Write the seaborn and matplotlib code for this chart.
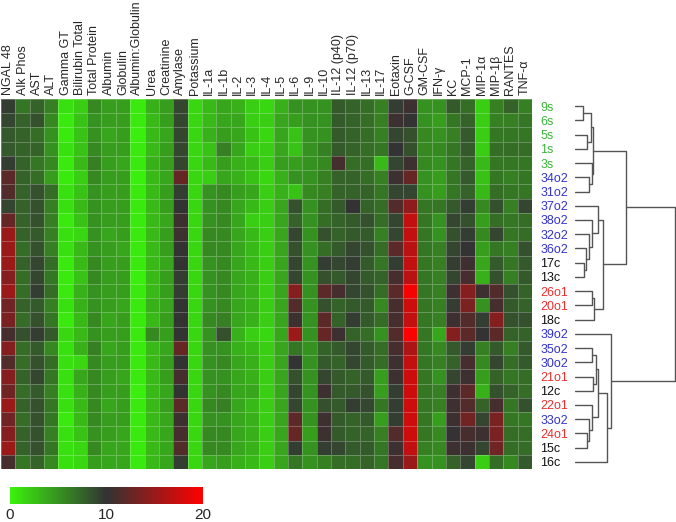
import numpy as np
import pandas as pd
import matplotlib
matplotlib.use("Agg")
import matplotlib.pyplot as plt
from matplotlib.colors import LinearSegmentedColormap
import seaborn as sns

# rows (top -> bottom, dendrogram order)
samples = ["9s", "6s", "5s", "1s", "3s", "34o2", "31o2", "37o2", "38o2", "32o2", "36o2",
           "17c", "13c", "26o1", "20o1", "18c", "39o2", "35o2", "30o2", "21o1", "12c",
           "22o1", "33o2", "24o1", "15c", "16c"]

clinical_names = ["NGAL 48", "Alk Phos", "AST", "ALT", "Gamma GT", "Bilirubin Total",
                  "Total Protein", "Albumin", "Globulin", "Albumin:Globulin", "Urea",
                  "Creatinine", "Amylase", "Potassium"]
cytokine_names = ["IL-1a", "IL-1b", "IL-2", "IL-3", "IL-4", "IL-5", "IL-6", "IL-9", "IL-10",
                  "IL-12 (p40)", "IL-12 (p70)", "IL-13", "IL-17", "Eotaxin", "G-CSF", "GM-CSF",
                  "IFN-γ", "KC", "MCP-1", "MIP-1α", "MIP-1β", "RANTES", "TNF-α"]

# one list per marker, 26 samples each (colour scale 0-20)
clinical = [
    [9.5, 9, 8, 8, 9.5, 12, 11.5, 9, 12.5, 15, 15, 15, 14, 15, 13, 13.5, 11, 14, 11.5, 14, 13, 15, 13, 14, 15, 11],
    [6.5, 7.5, 7.5, 7.5, 7.5, 7.5, 7.5, 7.5, 7.5, 7.5, 7, 7.5, 7, 7, 7.5, 7, 8.5, 7, 7, 7.5, 7, 7.5, 7, 7.5, 7.5, 6.5],
    [7.5, 8.5, 7, 7.5, 6.5, 7, 8.5, 8.5, 8.5, 8, 8.5, 9, 9, 9.5, 8, 8.5, 9.5, 8, 8.5, 9, 8, 8.5, 8.5, 8.5, 8.5, 7.5],
    [6, 5.5, 5, 5, 5.5, 4.5, 7, 6, 6, 6, 6, 7, 6.5, 7, 6, 6.5, 8, 5.5, 7, 6.5, 6, 6.5, 6.5, 6, 6.5, 5.5],
    [1, 0.5, 0.5, 1, 0.5, 0.5, 1, 1, 0.5, 1, 1, 0.5, 0.5, 0.5, 1, 0.5, 1.5, 1, 1, 1, 1, 1, 0.5, 1, 1, 1],
    [2, 2.5, 2.5, 2.5, 3, 2, 2.5, 3, 2.5, 1.5, 3, 3, 2.5, 3.5, 3.5, 3, 3, 3.5, 1.5, 4, 3.5, 3, 3, 2.5, 1.5, 1.5],
    [5.5, 5, 5, 5.5, 6, 5.5, 5, 5, 5, 5, 5, 5.5, 5.5, 5, 5, 5.5, 5, 6, 5.5, 5.5, 5.5, 5.5, 5.5, 5, 5.5, 4.5],
    [4.5, 4.5, 4, 4.5, 4.5, 4.5, 4.5, 4.5, 4.5, 4, 4.5, 4.5, 4.5, 4.5, 4.5, 4, 4.5, 4, 4.5, 4.5, 4.5, 4, 4.5, 4.5, 4, 4],
    [4.5, 4.5, 4.5, 4.5, 4, 4.5, 4.5, 4.5, 4.5, 4.5, 4, 4.5, 4.5, 4.5, 4, 4.5, 4.5, 4.5, 4.5, 4, 4.5, 4.5, 4.5, 4, 4, 4],
    [0.5, 0.5, 0.3, 0.5, 0.5, 0.3, 0.5, 0.5, 0.5, 0.5, 0.5, 0.5, 0.3, 0.5, 0.5, 0.5, 0.5, 0.5, 0.5, 0.5, 0.3, 0.5, 0.5, 0.5, 0.5, 0.5],
    [3.5, 3, 3, 3, 3.5, 3, 3, 3, 3, 3, 3, 3, 3, 3, 3.5, 3, 5.5, 3, 3, 3, 3, 3, 3, 3, 3, 3],
    [4.5, 4.5, 4, 4.5, 4.5, 4, 4.5, 4.5, 4, 4.5, 4.5, 4, 4.5, 4.5, 4, 4.5, 4.5, 4, 4.5, 4.5, 4, 4.5, 4, 4, 4, 4],
    [9, 9, 9, 9, 9, 12.5, 9.5, 10, 10.5, 10.5, 10, 10, 9.5, 9.5, 10, 10, 10, 12.5, 10, 11, 10, 12, 10.5, 11, 11.5, 9.5],
    [1.5, 1.5, 1.5, 1.5, 1.5, 1.5, 1.5, 1.5, 1.5, 1.5, 1.5, 1.5, 1.5, 1.5, 1.5, 1.5, 1.5, 1.5, 1.5, 1.5, 1.5, 1.5, 1.5, 1.5, 1.5, 1.5],
]
cytokines = [
    [3, 3, 3.5, 2.5, 3, 2, 5, 5, 5, 5.5, 5.5, 5, 5, 5, 5, 5.5, 5, 5, 5, 5, 5, 5.5, 5, 5.5, 5.5, 4],
    [4, 4, 4.5, 6, 4.5, 4, 5.5, 5.5, 5.5, 5.5, 5.5, 5.5, 5.5, 5.5, 5.5, 6, 8.5, 5, 5.5, 5, 5.5, 6, 5, 5.5, 5.5, 4.5],
    [3.5, 4, 4, 4, 3.5, 3.5, 4.5, 4, 4, 4, 4, 4, 4, 4, 4, 4, 3.5, 3.5, 4, 4, 4, 4, 4, 4, 4, 3.5],
    [2, 2, 2.5, 2, 3, 2.5, 4, 3, 2, 3, 3, 3, 3.5, 3.5, 3.5, 3.5, 2, 3, 3.5, 3.5, 4, 3, 3.5, 3.5, 3.5, 3],
    [1.5, 2, 1.5, 2, 2, 1.5, 2, 2, 2, 2, 2, 2, 2, 2, 2, 2, 1.5, 2, 2, 2, 2, 2, 2, 2, 2, 2],
    [3.5, 4, 4, 4, 4.5, 3.5, 3.5, 4, 4, 4, 4, 4, 4, 4, 4, 4, 4, 4, 4, 4, 4, 4, 4, 4, 4, 4],
    [5, 4.5, 2.5, 2.5, 4.5, 5, 2.5, 8.5, 7.5, 9, 8.5, 9, 9, 14, 11.5, 10.5, 15, 6.5, 10, 8.5, 9, 9, 12, 12.5, 9.5, 6.5],
    [5, 5, 5, 5, 5, 5, 5.5, 5, 5, 5, 5, 5, 5, 5, 5, 5, 5, 5, 5, 5, 5, 5, 5, 4.5, 5, 5],
    [5, 5, 5, 6, 5.5, 6, 6, 7, 7, 8.5, 7, 9.5, 8.5, 12, 8.5, 12, 12.5, 7.5, 8, 9, 10.5, 8.5, 10.5, 10.5, 9.5, 6],
    [8, 8, 8, 8, 11, 7.5, 7.5, 8, 7.5, 7.5, 8, 9, 8, 11, 7.5, 7.5, 10.5, 8, 7.5, 8, 8, 8, 8, 8, 9, 7],
    [7.5, 7.5, 7.5, 7.5, 7, 7.5, 7.5, 10, 8, 8, 9, 9.5, 9, 9, 8, 9.5, 7.5, 9, 9, 7.5, 8, 9.5, 7.5, 7.5, 8, 7],
    [7, 7, 7, 7, 7, 7, 7.5, 7.5, 8.5, 8, 8.5, 8, 8, 8.5, 8, 8, 7, 8, 8, 8, 8.5, 9, 8, 7.5, 8, 7.5],
    [6, 6, 6, 6.5, 3, 6, 6.5, 7, 7, 6, 7, 6.5, 7.5, 7, 5.5, 7, 5, 7, 7, 4.5, 4.5, 6.5, 4.5, 6, 6.5, 6.5],
    [9.5, 10.5, 9, 10, 9, 10.5, 9, 11.5, 9, 9, 12, 9.5, 11, 12, 11, 11, 11.5, 11, 10.5, 10.5, 9.5, 9.5, 9.5, 11.5, 10.5, 11],
    [10.5, 10, 8.5, 8.5, 10.5, 12.5, 9, 14.5, 17, 17, 16.5, 17, 16.5, 19.5, 17.5, 17, 20, 16, 17, 17.5, 17.5, 17.5, 17.5, 17.5, 17, 15],
    [5, 5, 5.5, 5.5, 5.5, 5, 5, 6.5, 6.5, 6.5, 6.5, 6.5, 6.5, 6.5, 6.5, 6.5, 6.5, 6.5, 6.5, 6.5, 6.5, 6.5, 6.5, 6.5, 6, 5],
    [5, 4.5, 5, 5.5, 5, 4.5, 4.5, 6.5, 5, 5, 6, 6, 6, 6, 6, 6, 4, 5.5, 6, 5, 6, 6, 4.5, 5.5, 5.5, 5],
    [8, 6.5, 6, 6.5, 6.5, 6.5, 6.5, 8, 9, 8.5, 9, 9.5, 9, 10.5, 9.5, 10.5, 14, 8, 7.5, 9, 10.5, 10.5, 10.5, 10, 10.5, 7.5],
    [7, 7.5, 8, 8, 7.5, 8, 7.5, 9.5, 8.5, 9.5, 10, 10.5, 11, 14, 13.5, 11.5, 12, 9.5, 11, 10.5, 12, 11.5, 13, 11, 10.5, 9],
    [2, 2, 2, 2, 3, 2.5, 3, 5.5, 4.5, 5.5, 4.5, 4, 3.5, 10.5, 5, 9.5, 10, 6, 5.5, 4.5, 3.5, 7.5, 9, 10.5, 9, 2],
    [6, 6, 6.5, 7, 6.5, 6.5, 7, 8.5, 7, 9, 6.5, 8, 8.5, 11.5, 11, 14, 12, 8, 9, 7.5, 8.5, 11, 13.5, 13.5, 13, 7],
    [7.5, 6, 6.5, 7, 6.5, 6, 6.5, 6, 6.5, 6.5, 6, 6.5, 6, 8.5, 8, 8.5, 7.5, 6, 7, 6.5, 7.5, 6.5, 6.5, 7, 7, 5.5],
    [6, 6.5, 6.5, 7, 6.5, 6.5, 6.5, 9, 7, 7, 8.5, 8, 8, 7.5, 7.5, 8.5, 7.5, 8, 8, 7, 7, 8.5, 6.5, 7, 7, 8],
]

# row clustering: (left node, right node, merge height); leaves are 0..25
merges = [
    (0, 1, 8), (2, 3, 12), (26, 27, 16), (5, 6, 14), (4, 29, 17), (28, 30, 18),
    (11, 12, 9), (10, 32, 11), (9, 33, 14), (8, 34, 17), (7, 35, 23),
    (13, 14, 17), (37, 15, 19), (36, 38, 28), (31, 39, 51),
    (17, 18, 17), (19, 20, 18), (41, 42, 21), (23, 24, 12), (22, 44, 14),
    (21, 45, 17), (43, 46, 23), (47, 25, 32), (16, 48, 36), (40, 49, 100),
]

GROUP_COL = {"s": "#3cb43c", "o2": "#3333cc", "o1": "#e8302e", "c": "#111111"}


def sample_group(name):
    for suf in ("o1", "o2", "s", "c"):
        if name.endswith(suf):
            return suf


sns.set_style("white")
plt.rcParams["font.family"] = ["Liberation Sans", "DejaVu Sans"]

df = pd.DataFrame(np.array(clinical + cytokines).T, index=samples,
                  columns=clinical_names + cytokine_names)

cmap = LinearSegmentedColormap.from_list("gbr", ["#3af20c", "#333333", "#ff0000"])

W, H = 676, 522
fig = plt.figure(figsize=(W / 100, H / 100), dpi=100)
ax = fig.add_axes([1 / W, 1 - 469 / H, 531 / W, 370 / H])
ax_d = fig.add_axes([575 / W, 1 - 469 / H, 101 / W, 370 / H])
cax = fig.add_axes([10 / W, 1 - 504 / H, 193 / W, 17 / H])

sns.heatmap(df, ax=ax, cmap=cmap, vmin=0, vmax=20, cbar_ax=cax,
            cbar_kws={"orientation": "horizontal", "ticks": [0, 10, 20]},
            linewidths=0.5, linecolor=(1, 1, 1, 0.25),
            xticklabels=True, yticklabels=True)

ax.xaxis.tick_top()
ax.set_xticklabels(df.columns, rotation=90, fontsize=9, va="bottom", ha="center")
ax.yaxis.tick_right()
ax.set_yticklabels(samples, rotation=0, fontsize=9)
for lab, s in zip(ax.get_yticklabels(), samples):
    lab.set_color(GROUP_COL[sample_group(s)])
ax.tick_params(axis="both", length=0)
ax.tick_params(axis="x", pad=3)
ax.tick_params(axis="y", pad=6)
ax.set_xlabel("")
ax.set_ylabel("")

cb = ax.collections[0].colorbar
cb.outline.set_visible(False)
cax.tick_params(length=0, labelsize=11, pad=3)

# dendrogram
pos = {i: (0.0, i + 0.5) for i in range(len(samples))}
for k, (a, b, h) in enumerate(merges):
    ha, ya = pos[a]
    hb, yb = pos[b]
    ax_d.plot([ha, h, h, hb], [ya, ya, yb, yb], color="#555555", lw=1)
    pos[len(samples) + k] = (h, (ya + yb) / 2)
ax_d.set_ylim(len(samples), 0)
ax_d.set_xlim(0, 101)
ax_d.axis("off")

fig.savefig("out.png", dpi=100)
